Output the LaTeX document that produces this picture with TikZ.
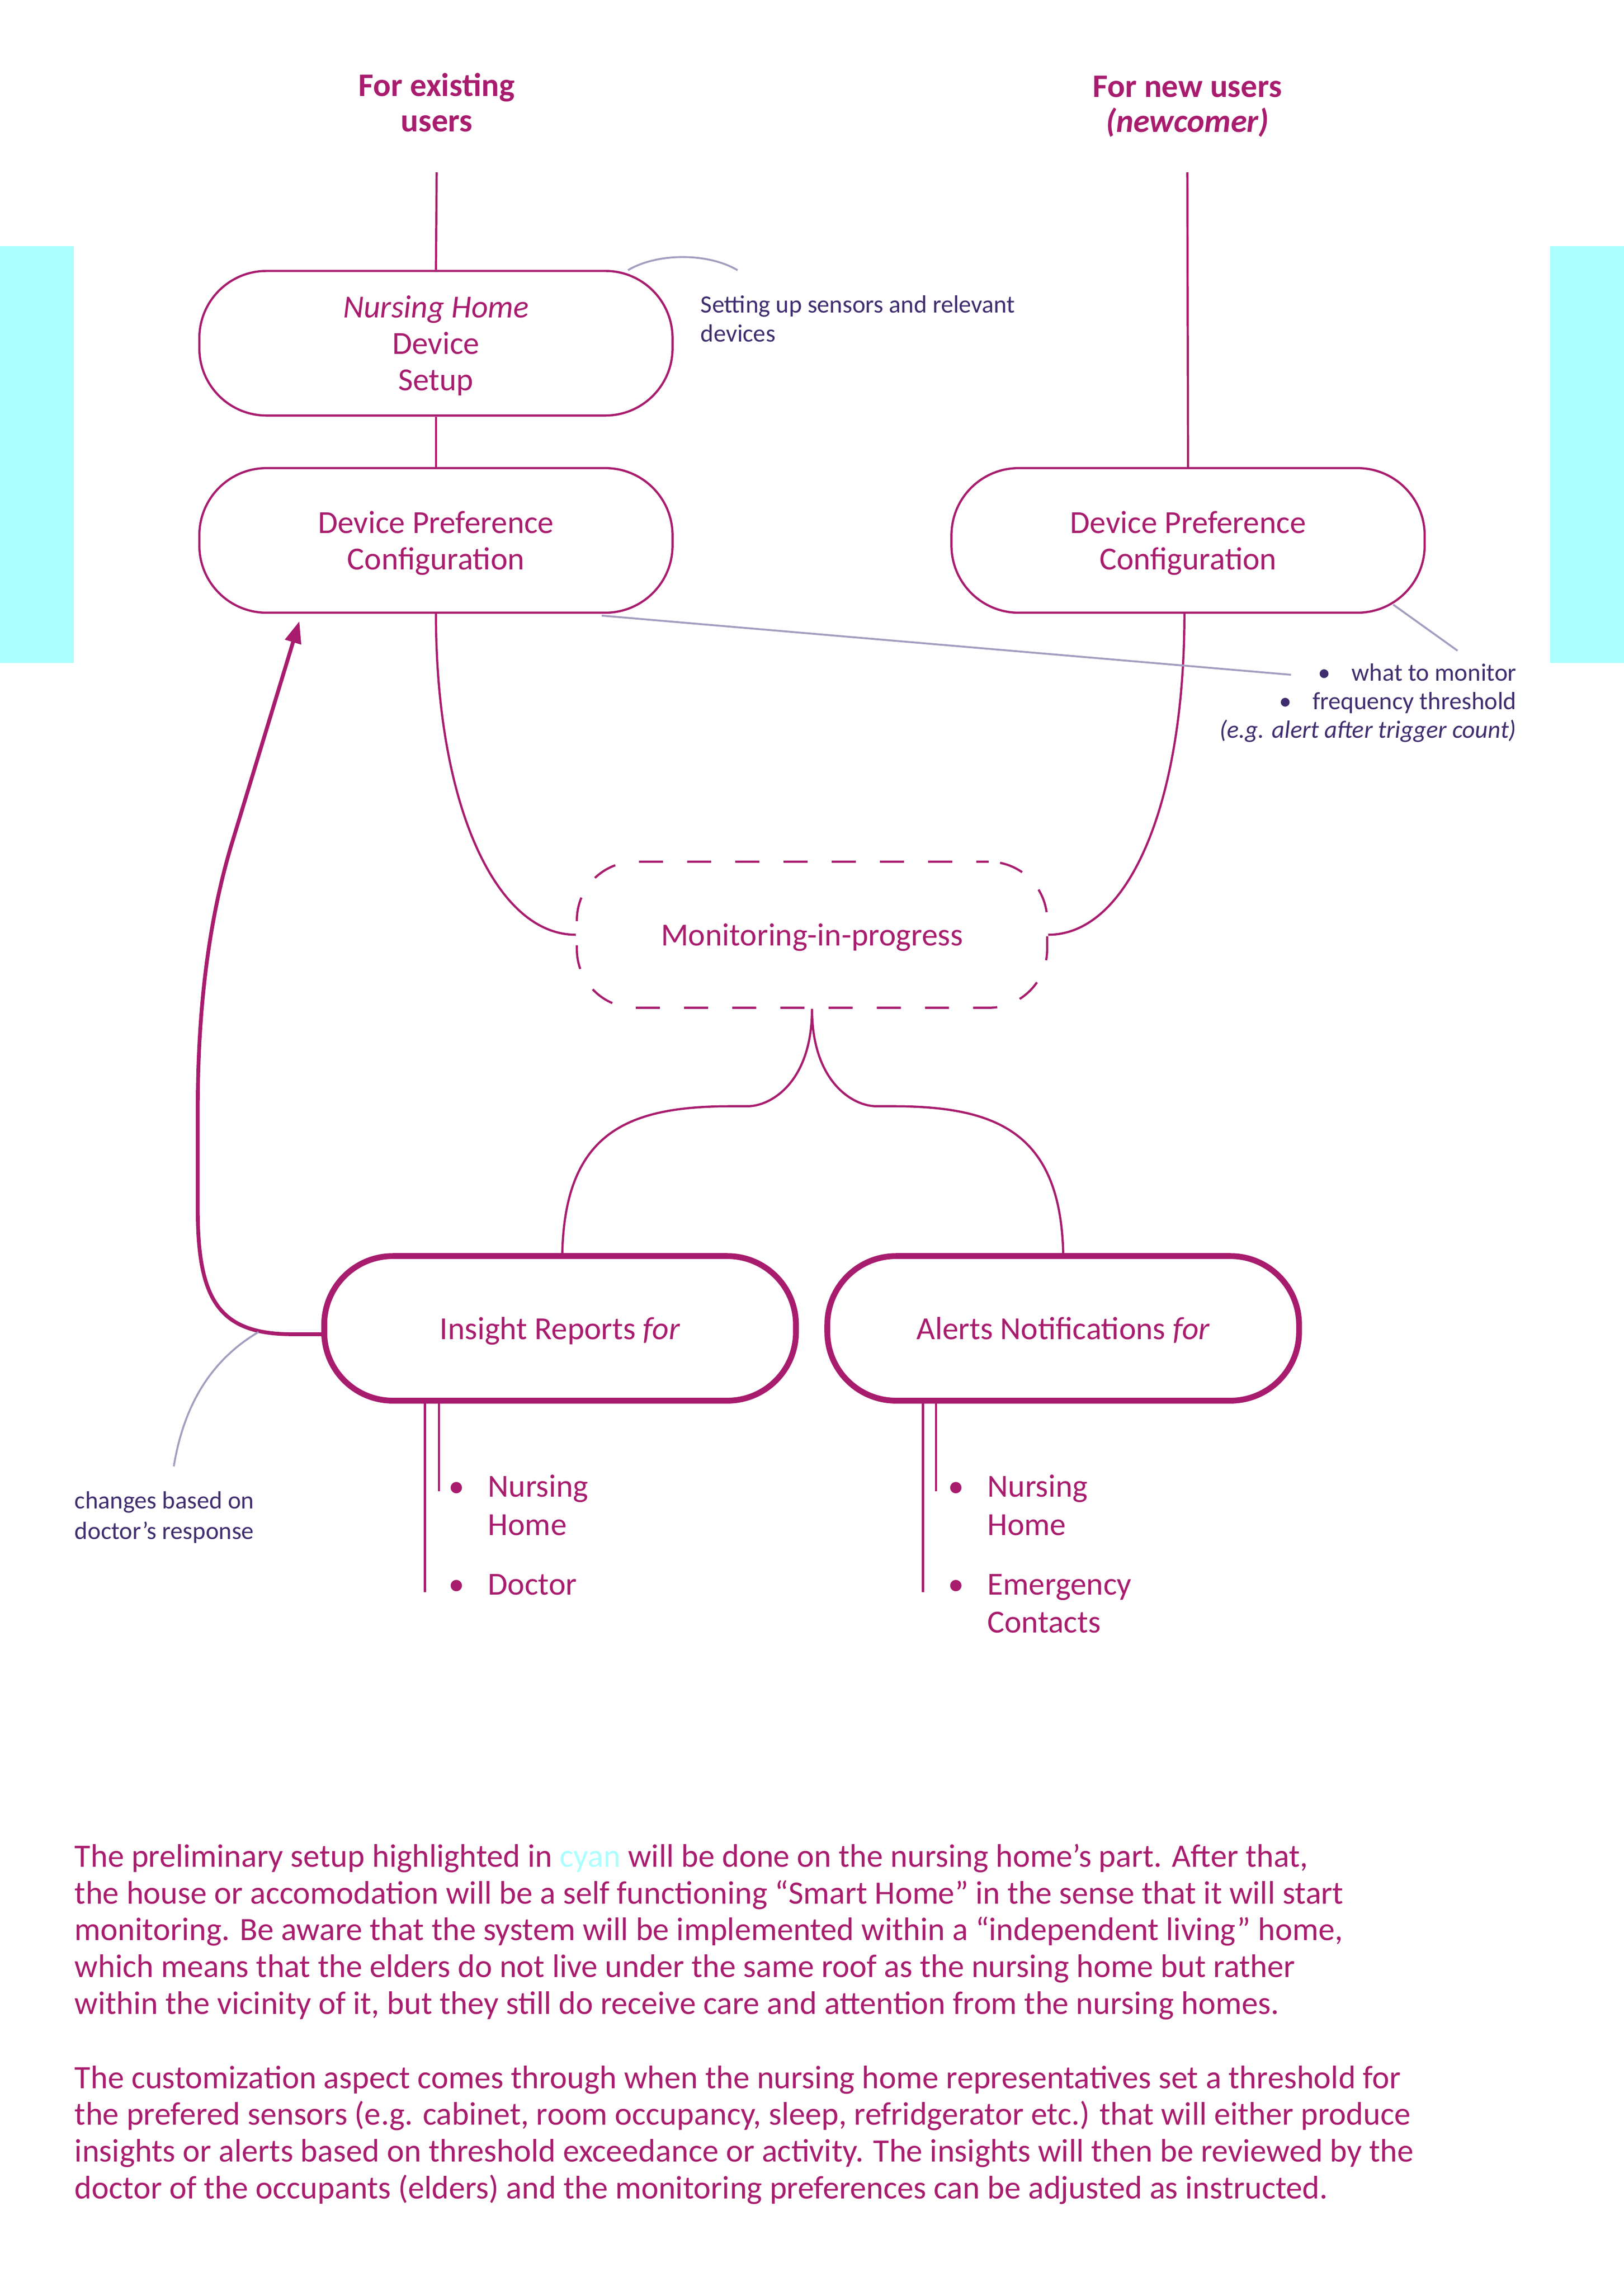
\documentclass[tikz,border=0pt]{standalone}
\usepackage{fontspec}
\setmainfont{Carlito}
\usetikzlibrary{arrows.meta}
\definecolor{mag}{RGB}{168,28,110}
\definecolor{purp}{RGB}{62,44,110}
\definecolor{gline}{RGB}{165,156,192}
\definecolor{cyhl}{RGB}{172,255,255}
\newcommand{\mystrut}{\vrule height 19pt depth 4pt width 0pt}
\newcommand{\smstrut}{\vrule height 13pt depth 3pt width 0pt}
\newcommand{\mainf}{\fontsize{22}{25}\selectfont}
\newcommand{\paraf}{\fontsize{22.35}{25.2}\selectfont}
\newcommand{\notef}{\fontsize{17}{20}\selectfont}
\newcommand{\listf}{\fontsize{17}{19.5}\selectfont}
\newcommand{\itemf}{\fontsize{22}{26}\selectfont}
\begin{document}
\begin{tikzpicture}[x=1pt,y=-1pt,
  box/.style={draw=mag, line width=1.5pt, rounded corners=46pt, minimum width=324pt,
    minimum height=99pt, inner sep=0pt, align=center, text=mag, font=\mainf},
  thickbox/.style={box, line width=4pt, rounded corners=47pt, minimum width=323pt},
  dbox/.style={box, dash pattern=on 16.5pt off 16.5pt, dash phase=8pt, rounded corners=40pt,
    minimum width=322pt, minimum height=100pt},
  conn/.style={draw=mag, line width=1.5pt},
  arr/.style={draw=mag, line width=2.6pt, -{Triangle[length=15pt,width=11pt]}},
  gl/.style={draw=gline, line width=1.3pt},
  title/.style={text=mag, font=\fontsize{22.5}{24}\selectfont\bfseries, align=center, inner sep=0pt},
  note/.style={text=purp, font=\notef, inner sep=0pt, align=left},
  item/.style={text=mag, font=\itemf, inner sep=0pt, align=left, anchor=west},
  para/.style={text=mag, font=\paraf, inner sep=0pt, align=left, anchor=north west}]
\useasboundingbox (0,0) rectangle (1112,1568.6);
% cyan highlight bands
\fill[cyhl] (0,168.5) rectangle (50.6,453.8);
\fill[cyhl] (1061.3,168.5) rectangle (1112,453.8);
% titles
\node[title] (t1) at (299,70.5) {\mystrut For existing\\\mystrut users};
\node[title] (t2) at (813,71) {\mystrut For new users\\\mystrut\textit{(newcomer)}};
% boxes
\node[box] (nh) at (298.5,235) {\mystrut\textit{Nursing Home}\\\mystrut Device\\\mystrut Setup};
\node[box] (dp1) at (298.5,370) {\mystrut Device Preference\\\mystrut Configuration};
\node[box] (dp2) at (813.5,370) {\mystrut Device Preference\\\mystrut Configuration};
\node[dbox] (mon) at (556,640) {\mystrut Monitoring-in-progress};
\node[thickbox] (ins) at (383.5,909.5) {\mystrut Insight Reports \textit{for}};
\node[thickbox] (alr) at (728,909.5) {\mystrut Alerts Notifications \textit{for}};
% vertical entry lines
\coordinate (s1) at (299,118);
\coordinate (s2) at (813,118);
\draw[conn] (s1) -- (nh.north);
\draw[conn] (nh.south) -- (dp1.north);
\draw[conn] (s2) -- (dp2.north);
% into monitoring
\draw[conn] (dp1.south) .. controls +(0,130) and +(-55,0) .. (mon.west);
\draw[conn] ([xshift=-2.5pt]dp2.south) .. controls +(0,130) and +(55,0) .. (mon.east);
% fork out of monitoring
\coordinate (fl1) at (512,757.4);
\coordinate (fl2) at (501,757.4);
\coordinate (fr1) at (600,757.4);
\coordinate (fr2) at (611,757.4);
\draw[conn] (mon.south) .. controls +(0,50) and +(16,0) .. (fl1) -- (fl2)
  .. controls +(-71,0) and +(2,-83) .. ([xshift=1.5pt]ins.north);
\draw[conn] (mon.south) .. controls +(0,50) and +(-16,0) .. (fr1) -- (fr2)
  .. controls +(71,0) and +(-2,-83) .. (alr.north);
% feedback arrow
\coordinate (tip) at (205,425.3);
\draw[arr] ([yshift=-4pt]ins.west) -- (200,913.5) .. controls (150,913.5) and (135.4,890) .. (135.4,828)
  -- (135.4,760) .. controls (135.4,690) and (143,630) .. (158.6,578) -- (tip);
% lists below boxes
\draw[conn] ([xshift=-92.5pt]ins.south) -- ++(0,129);
\draw[conn] ([xshift=-83pt]ins.south) -- ++(0,60);
\draw[conn] ([xshift=-96pt]alr.south) -- ++(0,129);
\draw[conn] ([xshift=-87pt]alr.south) -- ++(0,60);
\node[item] (i1) at (307,1030.5) {\mystrut\makebox[27pt][l]{•}Nursing\\\mystrut\hspace*{27pt}Home};
\node[item] (i2) at (307,1084.5) {\mystrut\makebox[27pt][l]{•}Doctor};
\node[item] (a1) at (649,1030.5) {\mystrut\makebox[27pt][l]{•}Nursing\\\mystrut\hspace*{27pt}Home};
\node[item] (a2) at (649,1097.5) {\mystrut\makebox[27pt][l]{•}Emergency\\\mystrut\hspace*{27pt}Contacts};
% annotations
\node[note, anchor=west] (n1) at (479.6,219) {\smstrut Setting up sensors and relevant\\\smstrut devices};
\node[note, anchor=east, align=right, font=\listf] (n2) at (1038.5,480.8)
  {\smstrut\makebox[23pt][l]{•}what to monitor\\\smstrut\makebox[23pt][l]{•}frequency threshold\\\smstrut\textit{(e.g. alert after trigger count)}};
\node[note, anchor=west, font=\fontsize{17}{21}\selectfont] (n3) at (51,1038.5) {\smstrut changes based on\\\smstrut doctor’s response};
\coordinate (g1a) at (430,185);
\coordinate (g1b) at (505,185);
\draw[gl] (g1a) .. controls (450,173) and (485,173) .. (g1b);
\coordinate (g2a) at (412,421.5);
\coordinate (g2b) at (884,462);
\draw[gl] (g2a) -- (g2b);
\coordinate (g3a) at (954,414);
\coordinate (g3b) at (998,445.5);
\draw[gl] (g3a) -- (g3b);
\coordinate (g4a) at (119,1004);
\coordinate (g4b) at (177,912);
\draw[gl] (g4a) .. controls (127,955) and (150,928) .. (g4b);
% paragraphs
\node[para] (p1) at (51,1259) {\mystrut The preliminary setup highlighted in {\color{cyhl}cyan} will be done on the nursing home’s part. After that,\\\mystrut the house or accomodation will be a self functioning “Smart Home” in the sense that it will start\\\mystrut monitoring. Be aware that the system will be implemented within a “independent living” home,\\\mystrut which means that the elders do not live under the same roof as the nursing home but rather\\\mystrut within the vicinity of it, but they still do receive care and attention from the nursing homes.};
\node[para] (p2) at (51,1410.6) {\mystrut The customization aspect comes through when the nursing home representatives set a threshold for\\\mystrut the prefered sensors (e.g. cabinet, room occupancy, sleep, refridgerator etc.) that will either produce\\\mystrut insights or alerts based on threshold exceedance or activity. The insights will then be reviewed by the\\\mystrut doctor of the occupants (elders) and the monitoring preferences can be adjusted as instructed.};
\end{tikzpicture}
\end{document}
